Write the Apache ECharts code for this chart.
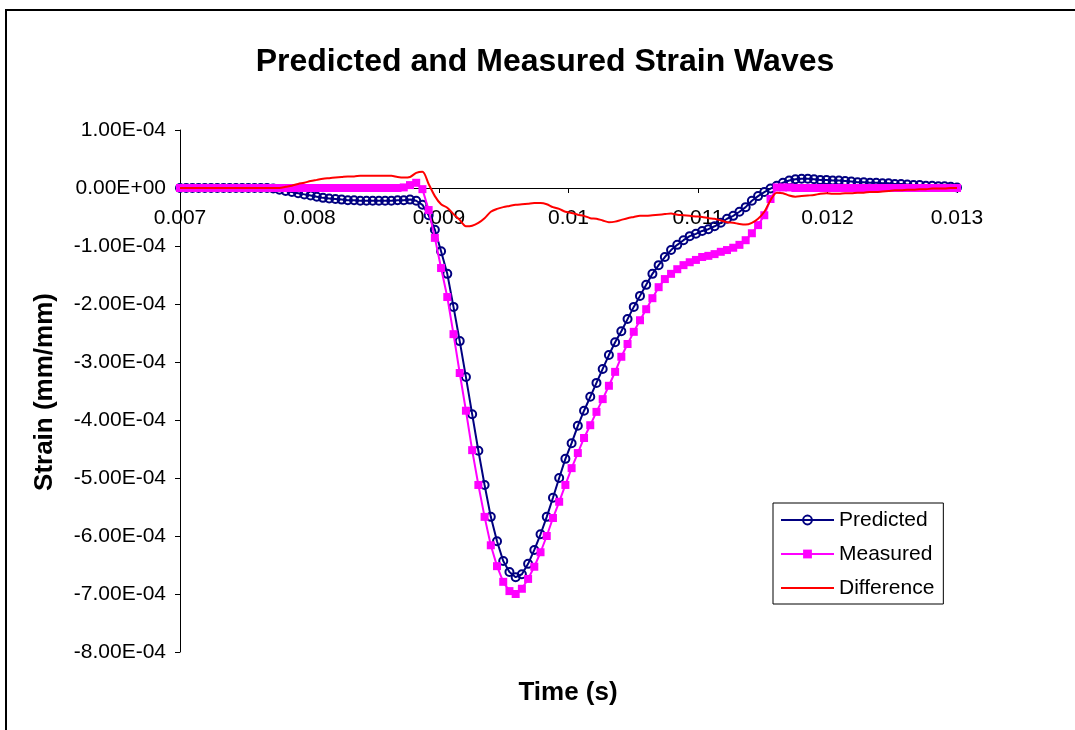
<!DOCTYPE html>
<html>
<head>
<meta charset="utf-8">
<title>Predicted and Measured Strain Waves</title>
<script src="https://cdn.jsdelivr.net/npm/echarts@6/dist/echarts.min.js"></script>
<style>
  html, body { margin: 0; padding: 0; background: #fff; }
  #chart { width: 1075px; height: 730px; }
</style>
</head>
<body>
<div id="chart"></div>
<script>
// Sampling clock of the gauge records (s)
const T0 = 0.007;
const DT = 0.000048;

// Strain records in microstrain (1e-6 mm/mm), one value per sample
const predicted = [
  0, 0, 0, 0, 0, 0, 0, 0, 0, 0,
  0, 0, 0, 0, 0, -1, -3, -5, -7, -9,
  -11, -13, -15, -17, -18, -19, -20, -21, -21, -22,
  -22, -22, -22, -22, -22, -21, -21, -20, -22, -29,
  -47, -72, -109, -148, -205, -264, -326, -390, -453, -512,
  -567, -609, -643, -662, -671, -666, -648, -624, -597, -567,
  -534, -500, -467, -440, -410, -384, -360, -336, -312, -288,
  -266, -247, -226, -205, -186, -167, -148, -133, -119, -107,
  -98, -90, -83, -79, -74, -71, -66, -60, -53, -48,
  -41, -33, -22, -14, -7, -1, 4, 9, 13, 15,
  16, 16, 15, 14, 14, 13, 13, 12, 11, 10,
  10, 9, 9, 8, 8, 7, 7, 6, 5, 5,
  4, 4, 3, 3, 2, 1
];

const measured = [
  0, 0, 0, 0, 0, 0, 0, 0, 0, 0,
  0, 0, 0, 0, 0, 0, 0, 0, 0, 0,
  0, 0, 0, 0, 0, 0, 0, 0, 0, 0,
  0, 0, 0, 0, 0, 0, 1, 5, 9, -2,
  -38, -86, -138, -188, -252, -319, -384, -452, -512, -567,
  -616, -652, -679, -695, -700, -691, -674, -653, -628, -600,
  -569, -541, -512, -483, -457, -431, -409, -386, -364, -341,
  -317, -291, -269, -248, -228, -209, -190, -171, -157, -148,
  -140, -133, -128, -124, -119, -117, -114, -110, -107, -103,
  -98, -90, -78, -64, -47, -19, 1, 1, 1, 0,
  0, 0, 0, 0, 0, 0, 0, 0, 0, 0,
  0, 0, 0, 0, 0, 0, 0, 0, 0, 0,
  0, 0, 0, 0, 0, 0
];

const difference = [
  0, 0, 0, 0, 0, 0, 0, 0, 0, 0,
  0, 0, 0, 0, 0, 0, 0, 2, 4, 7,
  9, 12, 14, 16, 17, 18, 19, 20, 20, 21,
  21, 21, 21, 21, 21, 19, 18, 19, 26, 28,
  7, -14, -28, -34, -45, -55, -66, -65, -60, -52,
  -41, -36, -33, -31, -29, -28, -27, -26, -26, -28,
  -33, -36, -41, -43, -46, -48, -52, -53, -56, -59,
  -58, -55, -52, -50, -48, -48, -47, -46, -45, -44,
  -46, -47, -48, -49, -50, -52, -53, -56, -59, -60,
  -62, -63, -60, -53, -41, -21, -8, -9, -13, -15,
  -14, -13, -12, -10, -9, -10, -10, -9, -9, -8,
  -8, -7, -7, -6, -5, -4, -4, -3, -3, -2,
  -2, -1, -1, -1, 0, 0
];

// Axis tick labels
const xTickLabels = ['0.007', '0.008', '0.009', '0.01', '0.011', '0.012', '0.013'];
const yTickLabels = ['-8.00E-04', '-7.00E-04', '-6.00E-04', '-5.00E-04', '-4.00E-04',
                     '-3.00E-04', '-2.00E-04', '-1.00E-04', '0.00E+00', '1.00E-04'];

const X_MIN = 0.007, X_MAX = 0.013, X_STEP = 0.001;
const Y_MIN = -8e-4, Y_MAX = 1e-4, Y_STEP = 1e-4;

// Plot area
const GRID = { left: 180, right: 118, top: 130, bottom: 78 };
const PLOT_H = 730 - GRID.top - GRID.bottom;
// Lift the time axis (line, ticks and labels) from the bottom edge up to strain = 0
const xAxisOffset = -PLOT_H * (0 - Y_MIN) / (Y_MAX - Y_MIN);

const toPoints = arr => arr.map((v, i) => [T0 + i * DT, v * 1e-6]);

const FONT = '"Liberation Sans", Arial, Helvetica, sans-serif';

const chart = echarts.init(document.getElementById('chart'), null, { renderer: 'canvas' });

chart.setOption({
  animation: false,
  backgroundColor: '#ffffff',
  textStyle: { fontFamily: FONT, color: '#000' },
  title: {
    text: 'Predicted and Measured Strain Waves',
    left: 540,
    textAlign: 'center',
    top: 41,
    textStyle: { fontFamily: FONT, fontSize: 32, fontWeight: 'bold', color: '#000' }
  },
  grid: Object.assign({ containLabel: false }, GRID),
  xAxis: {
    type: 'value',
    position: 'bottom',
    offset: xAxisOffset,
    min: X_MIN,
    max: X_MAX,
    interval: X_STEP,
    axisLine: { show: true, onZero: false, lineStyle: { color: '#000', width: 1 } },
    axisTick: { show: true, inside: false, length: 5, lineStyle: { color: '#000' } },
    splitLine: { show: false },
    axisLabel: {
      margin: 20,
      fontFamily: FONT,
      fontSize: 21,
      color: '#000',
      showMinLabel: true,
      showMaxLabel: true,
      formatter: v => xTickLabels[Math.round((v - X_MIN) / X_STEP)]
    }
  },
  yAxis: {
    type: 'value',
    min: Y_MIN,
    max: Y_MAX,
    interval: Y_STEP,
    axisLine: { show: true, onZero: false, lineStyle: { color: '#000', width: 1 } },
    axisTick: { show: true, inside: false, length: 5, lineStyle: { color: '#000' } },
    splitLine: { show: false },
    axisLabel: {
      margin: 14,
      fontFamily: FONT,
      fontSize: 21,
      color: '#000',
      formatter: v => yTickLabels[Math.round((v - Y_MIN) / Y_STEP)]
    }
  },
  legend: {
    orient: 'vertical',
    left: 773,
    top: 503,
    padding: [5, 9, 4, 7],
    itemGap: 10,
    itemWidth: 53,
    itemHeight: 11,
    backgroundColor: '#fff',
    borderColor: '#000',
    borderWidth: 1,
    borderRadius: 0,
    textStyle: { fontFamily: FONT, fontSize: 21, color: '#000', lineHeight: 24 },
    data: [
      { name: 'Predicted' },
      { name: 'Measured' },
      { name: 'Difference', itemStyle: { opacity: 0 } }
    ]
  },
  graphic: [
    {
      type: 'rect',
      z: -10,
      shape: { x: 6, y: 10, width: 1200, height: 900 },
      style: { fill: 'none', stroke: '#000', lineWidth: 2 }
    },
    {
      type: 'text',
      x: 568, y: 693,
      style: {
        text: 'Time (s)',
        align: 'center', verticalAlign: 'middle',
        font: 'bold 26px ' + FONT, fill: '#000'
      }
    },
    {
      type: 'text',
      x: 45, y: 392,
      rotation: Math.PI / 2,
      style: {
        text: 'Strain (mm/mm)',
        align: 'center', verticalAlign: 'middle',
        font: 'bold 26px ' + FONT, fill: '#000'
      }
    }
  ],
  series: [
    {
      name: 'Predicted',
      type: 'line',
      data: toPoints(predicted),
      symbol: 'circle',
      symbolSize: 8,
      itemStyle: { color: 'rgba(0,0,0,0)', borderColor: '#000080', borderWidth: 2 },
      lineStyle: { color: '#000080', width: 2 },
      emphasis: { disabled: true },
      z: 2
    },
    {
      name: 'Measured',
      type: 'line',
      data: toPoints(measured),
      symbol: 'rect',
      symbolSize: 8,
      itemStyle: { color: '#ff00ff', borderWidth: 0 },
      lineStyle: { color: '#ff00ff', width: 2 },
      emphasis: { disabled: true },
      z: 3
    },
    {
      name: 'Difference',
      type: 'line',
      data: toPoints(difference),
      showSymbol: false,
      symbol: 'none',
      smooth: 0.3,
      itemStyle: { color: '#ff0000' },
      lineStyle: { color: '#ff0000', width: 2 },
      emphasis: { disabled: true },
      z: 4
    }
  ]
});
</script>
</body>
</html>
